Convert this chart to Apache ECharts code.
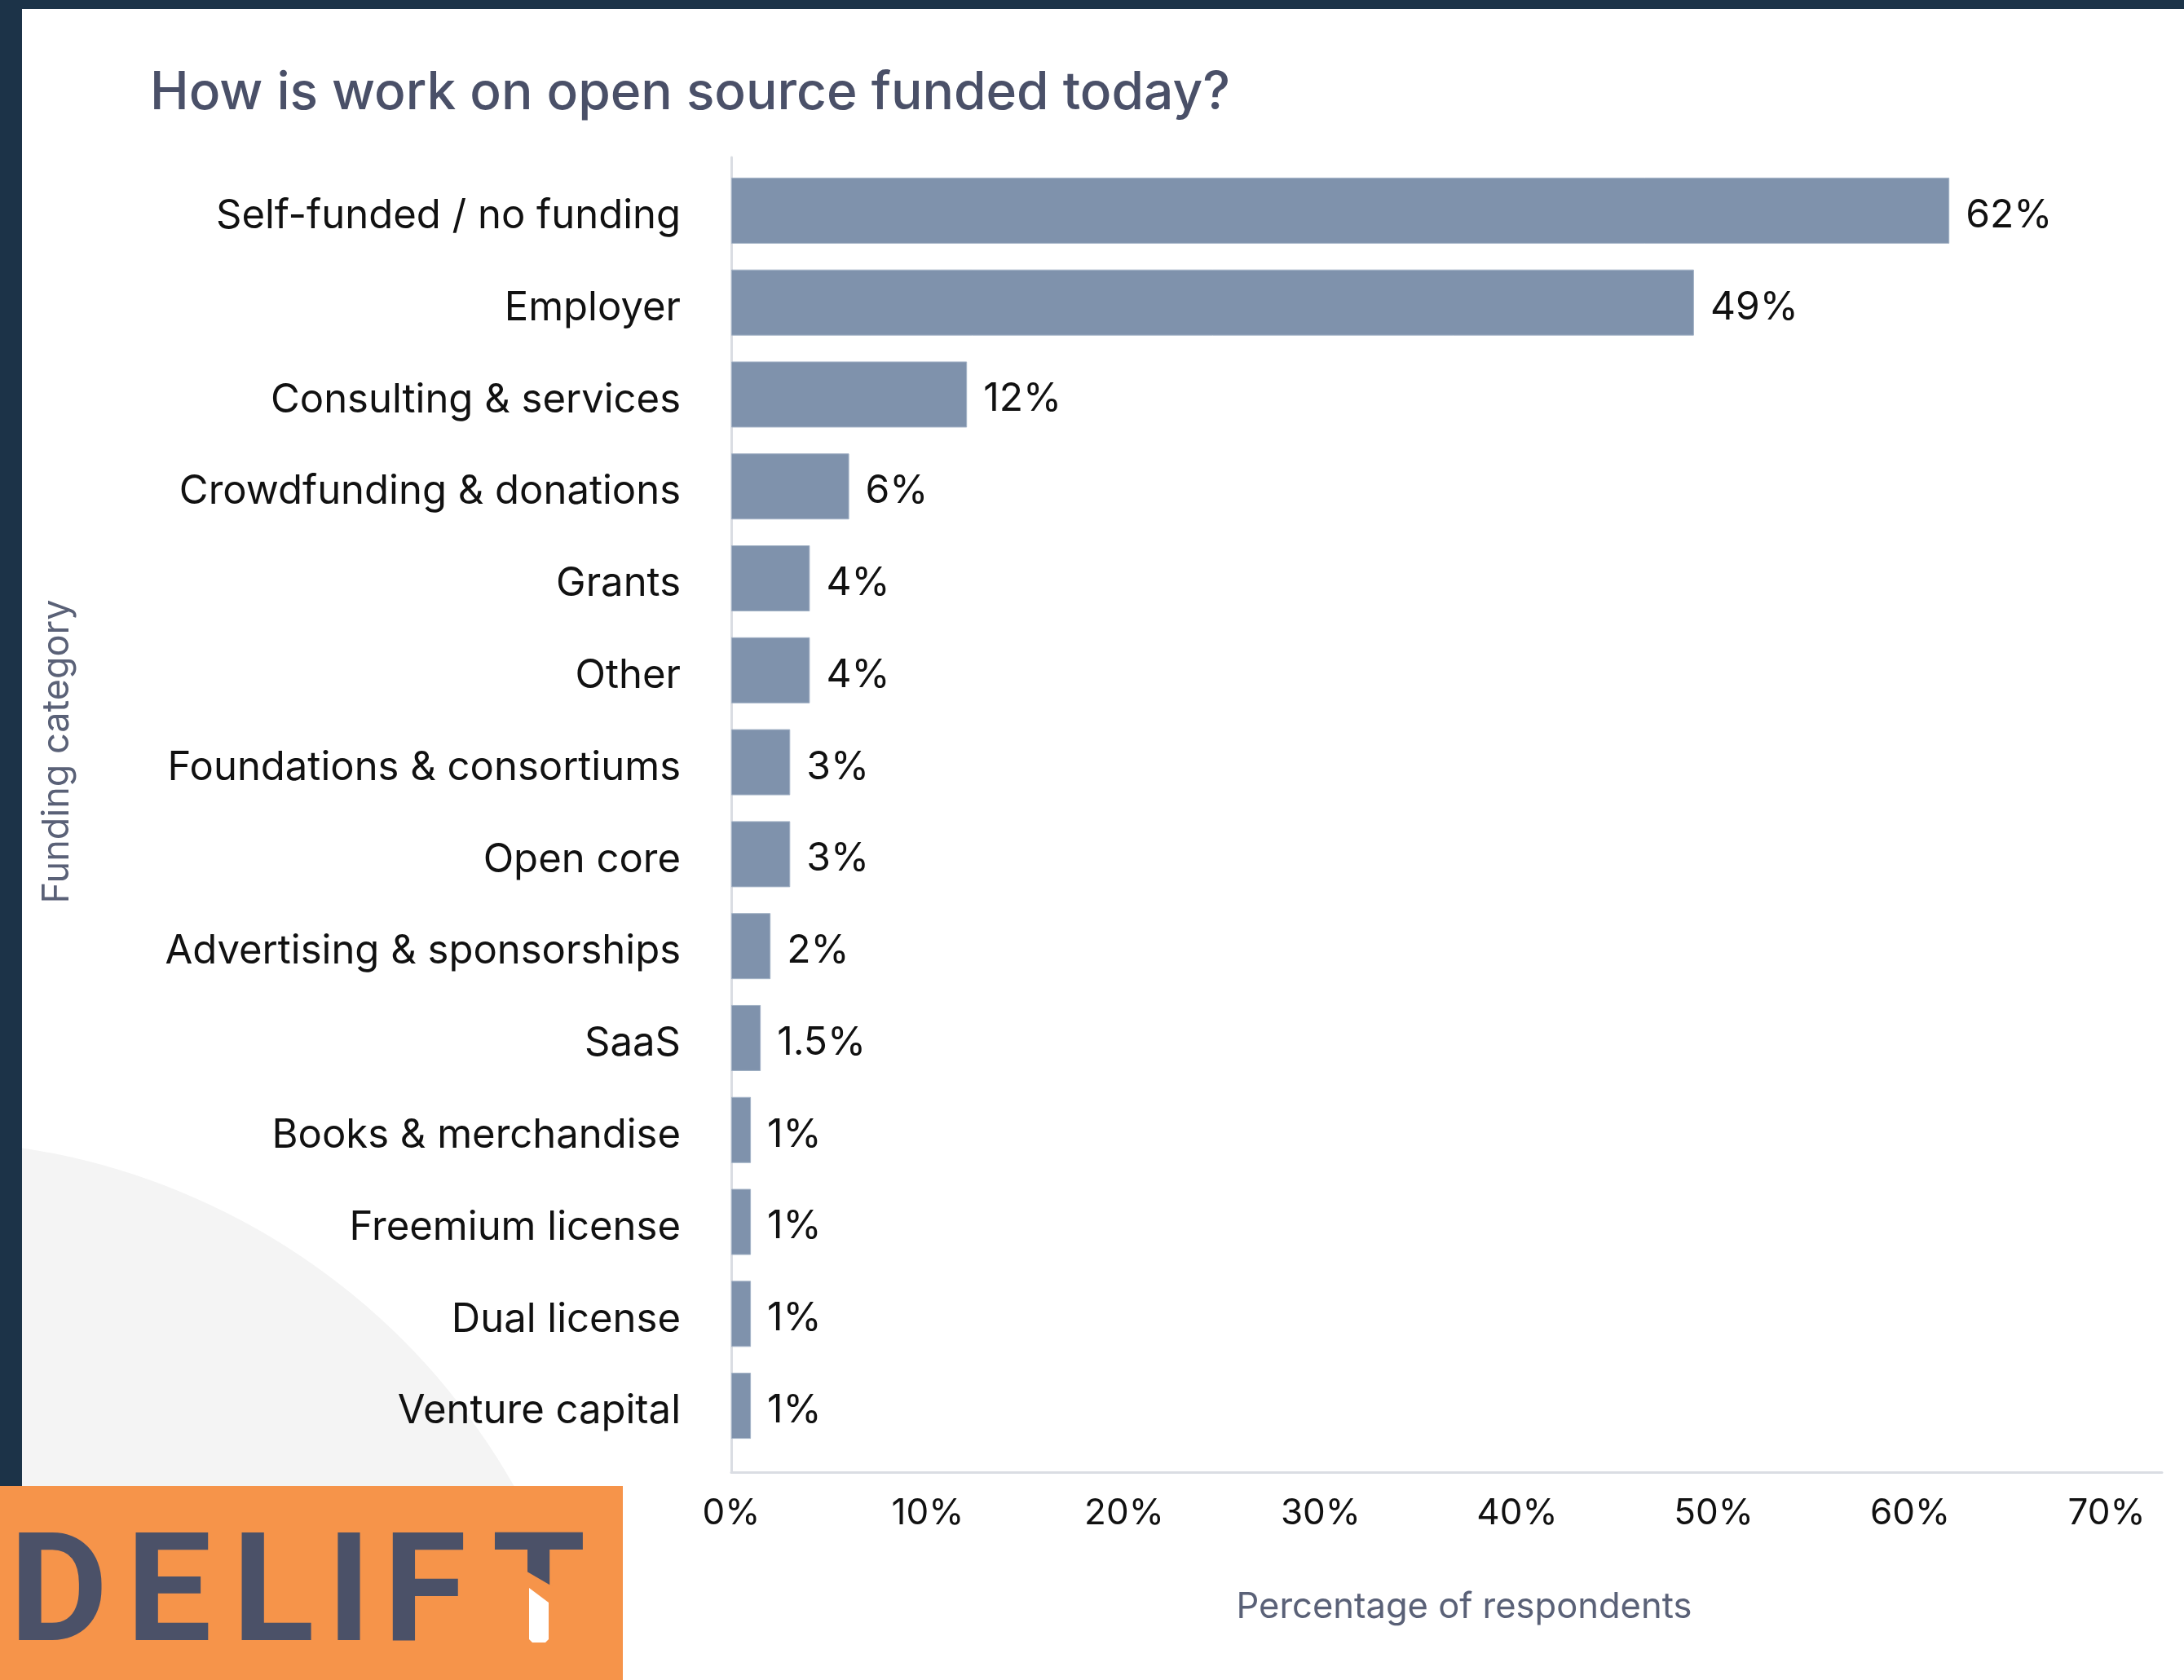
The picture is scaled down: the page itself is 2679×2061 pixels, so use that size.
<!DOCTYPE html>
<html>
<head>
<meta charset="utf-8">
<title>How is work on open source funded today?</title>
<script src="https://cdn.jsdelivr.net/npm/echarts@6/dist/echarts.min.js"></script>
<style>
  html, body { margin: 0; padding: 0; background: #ffffff; }
  #chart { width: 2679px; height: 2061px; }
</style>
</head>
<body>
<div id="chart"></div>
<script>
// Funding categories, top to bottom
const categories = [
  'Self-funded / no funding',
  'Employer',
  'Consulting & services',
  'Crowdfunding & donations',
  'Grants',
  'Other',
  'Foundations & consortiums',
  'Open core',
  'Advertising & sponsorships',
  'SaaS',
  'Books & merchandise',
  'Freemium license',
  'Dual license',
  'Venture capital'
];

// Share of respondents, in percent
const shares = [62, 49, 12, 6, 4, 4, 3, 3, 2, 1.5, 1, 1, 1, 1];

// Percentage axis ticks
const axisMin = 0;
const axisMax = 70;
const axisStep = 10;

const FONT = 'Inter, "Noto Sans", sans-serif';
const BAR = '#7f92ac';
const AXIS_LINE = '#dadde3';
const FRAME = '#1c3348';
const ORANGE = '#f6944a';
const SLATE = '#4b5168';

// Logo wordmark letters and their centre x positions
const logoLetters = ['D', 'E', 'L', 'I', 'F', 'T'];
const logoCenters = [72, 207, 335, 428, 521, 661];

const chart = echarts.init(document.getElementById('chart'), null, { renderer: 'canvas' });

const graphics = [
  // soft grey disc in the lower-left corner of the card
  { type: 'circle', z: -20, silent: true, shape: { cx: -97, cy: 2235, r: 836 }, style: { fill: '#f4f4f4' } },
  // dark frame along the top and left edges
  { type: 'rect', z: -10, silent: true, shape: { x: 0, y: 0, width: 2679, height: 11 }, style: { fill: FRAME } },
  { type: 'rect', z: -10, silent: true, shape: { x: 0, y: 0, width: 27, height: 2061 }, style: { fill: FRAME } },
  // axis names
  {
    type: 'text', z: 5, x: 70, y: 922, rotation: Math.PI / 2,
    style: { text: 'Funding category', font: '400 45px ' + FONT, fill: '#5a6177', align: 'center', verticalAlign: 'middle' }
  },
  {
    type: 'text', z: 5, x: 1796, y: 1972,
    style: { text: 'Percentage of respondents', font: '400 43.5px ' + FONT, fill: '#5a6177', align: 'center', verticalAlign: 'middle' }
  },
  // logo block
  { type: 'rect', z: 20, silent: true, shape: { x: 0, y: 1823, width: 764, height: 238 }, style: { fill: ORANGE } }
];

logoLetters.forEach(function (ch, i) {
  graphics.push({
    type: 'text', z: 21, x: logoCenters[i], y: 1965,
    style: { text: ch, font: '700 186px Roboto, "Liberation Sans", sans-serif', fill: SLATE, align: 'center', verticalAlign: 'middle' }
  });
});
// split stem of the final letter
graphics.push({
  type: 'polygon', z: 22, silent: true,
  shape: { points: [[643, 1926], [679, 1947], [679, 2040], [643, 2040]] },
  style: { fill: ORANGE }
});
graphics.push({
  type: 'polygon', z: 23, silent: true,
  shape: { points: [[649, 1948], [673, 1966], [673, 2011], [669, 2015], [653, 2015], [649, 2011]] },
  style: { fill: '#ffffff' }
});

chart.setOption({
  backgroundColor: '#ffffff',
  animation: false,
  title: {
    text: 'How is work on open source funded today?',
    left: 179,
    top: 78,
    textStyle: { fontFamily: FONT, fontSize: 64, fontWeight: 500, color: '#4a5068' }
  },
  grid: [
    // bar area
    { left: 897, top: 202, width: 1687, height: 1579 },
    // frame carrying the axis lines
    { left: 897, top: 193, width: 1755, height: 1613 }
  ],
  xAxis: [
    {
      gridIndex: 0, type: 'value', min: axisMin, max: axisMax, interval: axisStep, offset: 25,
      axisLine: { show: false }, axisTick: { show: false }, splitLine: { show: false },
      axisLabel: { formatter: '{value}%', fontFamily: FONT, fontSize: 44, color: '#111111', margin: 29 }
    },
    {
      gridIndex: 1, type: 'value', min: 0, max: 1,
      axisLine: { show: true, onZero: false, lineStyle: { color: AXIS_LINE, width: 3 } },
      axisTick: { show: false }, axisLabel: { show: false }, splitLine: { show: false }
    }
  ],
  yAxis: [
    {
      gridIndex: 0, type: 'category', data: categories, inverse: true,
      axisLine: { show: false }, axisTick: { show: false }, splitLine: { show: false },
      axisLabel: {
        margin: 62,
        formatter: function (v) { return '{c|' + v + '}'; },
        rich: { c: { fontFamily: FONT, fontSize: 49, color: '#111111', padding: [14, 0, 0, 0] } }
      }
    },
    {
      gridIndex: 1, type: 'value', min: 0, max: 1,
      axisLine: { show: true, onZero: false, lineStyle: { color: AXIS_LINE, width: 3 } },
      axisTick: { show: false }, axisLabel: { show: false }, splitLine: { show: false }
    }
  ],
  series: [
    {
      type: 'bar',
      xAxisIndex: 0,
      yAxisIndex: 0,
      data: shares,
      barWidth: 81,
      itemStyle: { color: BAR, borderColor: '#a3b2c6', borderWidth: 1 },
      label: {
        show: true,
        position: 'right',
        distance: 20,
        formatter: function (p) { return '{v|' + p.value + '%}'; },
        rich: { v: { fontFamily: FONT, fontSize: 48, color: '#111111', padding: [12, 0, 0, 0] } }
      }
    },
    { type: 'scatter', xAxisIndex: 1, yAxisIndex: 1, data: [], silent: true }
  ],
  graphic: graphics
});
</script>
</body>
</html>
